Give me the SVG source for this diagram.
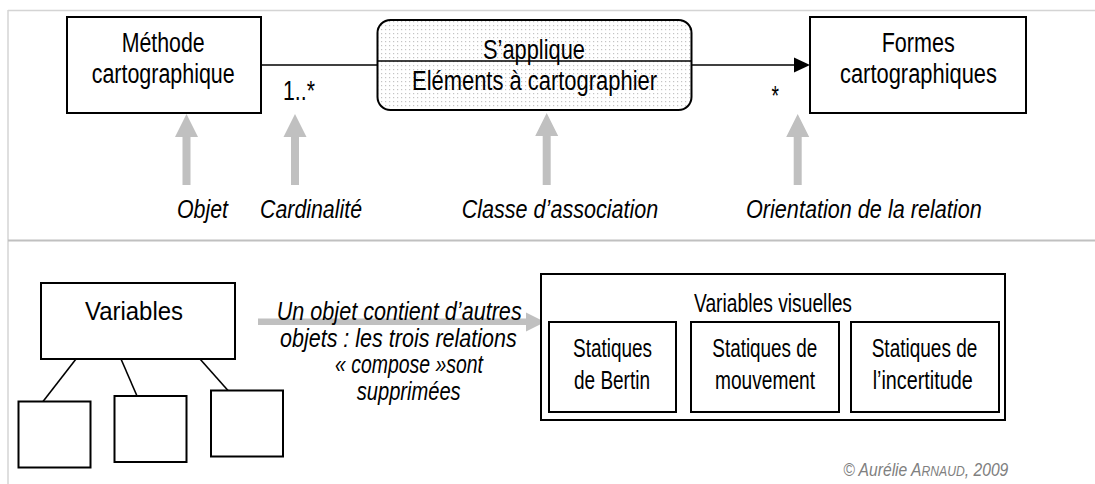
<svg xmlns="http://www.w3.org/2000/svg" width="1095" height="484" viewBox="0 0 1095 484">
<style>
.box{fill:#fff;stroke:#000;stroke-width:2}
.ln{stroke:#000;stroke-width:1.6;fill:none}
.t{font-family:"Liberation Sans",Arial,sans-serif;font-size:27px;fill:#000}
.tb{font-family:"Liberation Sans",Arial,sans-serif;font-size:26px;fill:#000}
.ti{font-family:"Liberation Sans",Arial,sans-serif;font-size:25px;font-style:italic;fill:#000}
.g{fill:#c0c0c0}
.cp{font-family:"Liberation Sans",Arial,sans-serif;font-size:18px;font-style:italic;fill:#808080}
</style>
<defs>
<pattern id="dots" width="4" height="4" patternUnits="userSpaceOnUse">
<rect width="4" height="4" fill="#fff"/>
<rect x="1" y="1" width="1.2" height="1.2" fill="#c4c4c4"/>
</pattern>
</defs>
<rect width="1095" height="484" fill="#fff"/>
<g id="frame">
<line x1="8" y1="10.5" x2="1095" y2="10.5" stroke="#d4d4d4" stroke-width="1.5"/>
<line x1="8" y1="10" x2="8" y2="484" stroke="#d4d4d4" stroke-width="1.5"/>
<line x1="8" y1="240.5" x2="1095" y2="240.5" stroke="#c0c0c0" stroke-width="2"/>
</g>
<g id="connectors">
<line class="ln" x1="261" y1="65" x2="377.5" y2="65"/>
<line class="ln" x1="691.5" y1="65" x2="796" y2="65"/>
<polygon points="794,57.5 810,65 794,72.5" fill="#000"/>
<line class="ln" x1="76" y1="359" x2="43" y2="401.5"/>
<line class="ln" x1="121" y1="359" x2="137" y2="396"/>
<line class="ln" x1="200" y1="359" x2="228" y2="390.5"/>
</g>
<g id="pointers">
<polygon class="g" points="186.5,114 198,137 190.5,137 190.5,185 182.5,185 182.5,137 175,137"/>
<polygon class="g" points="295,114 306.5,137 299,137 299,185 291,185 291,137 283.5,137"/>
<polygon class="g" points="546.7,113 558.2,136 550.7,136 550.7,185 542.7,185 542.7,136 535.2,136"/>
<polygon class="g" points="797.7,114 809.2,137 801.7,137 801.7,185 793.7,185 793.7,137 786.2,137"/>
<polygon class="g" points="258,318.5 526,318.5 526,312.5 545,322 526,331.5 526,325 258,325"/>
</g>
<g id="methode">
<rect class="box" x="67" y="17" width="194" height="96"/>
<text class="t" x="121.7" y="52" textLength="83" lengthAdjust="spacingAndGlyphs">Méthode</text>
<text class="t" x="91.7" y="83" textLength="143" lengthAdjust="spacingAndGlyphs">cartographique</text>
</g>
<g id="association">
<rect x="377.5" y="20" width="314" height="90" rx="13" fill="url(#dots)" stroke="#000" stroke-width="2"/>
<line class="ln" x1="377.5" y1="61" x2="691.5" y2="61"/>
<text class="t" x="483" y="59" textLength="102" lengthAdjust="spacingAndGlyphs">S’applique</text>
<text class="t" x="412" y="90" textLength="245" lengthAdjust="spacingAndGlyphs">Eléments à cartographier</text>
</g>
<g id="formes">
<rect class="box" x="810" y="17" width="216" height="96"/>
<text class="t" x="881.7" y="52" textLength="73" lengthAdjust="spacingAndGlyphs">Formes</text>
<text class="t" x="840" y="83" textLength="157" lengthAdjust="spacingAndGlyphs">cartographiques</text>
</g>
<g id="cardinalities">
<text class="t" x="283" y="100" textLength="32" lengthAdjust="spacingAndGlyphs">1..*</text>
<text class="t" x="771.5" y="105" textLength="7.5" lengthAdjust="spacingAndGlyphs">*</text>
</g>
<g id="labels">
<text class="ti" x="177" y="218" textLength="51" lengthAdjust="spacingAndGlyphs">Objet</text>
<text class="ti" x="260" y="218" textLength="102" lengthAdjust="spacingAndGlyphs">Cardinalité</text>
<text class="ti" x="461.7" y="218" textLength="196.6" lengthAdjust="spacingAndGlyphs">Classe d’association</text>
<text class="ti" x="746" y="218" textLength="235.7" lengthAdjust="spacingAndGlyphs">Orientation de la relation</text>
</g>
<g id="variables">
<rect class="box" x="41" y="283" width="194" height="76"/>
<text class="tb" x="85" y="320" textLength="98" lengthAdjust="spacingAndGlyphs">Variables</text>
</g>
<g id="sub1"><rect class="box" x="18.5" y="401.5" width="72" height="66"/></g>
<g id="sub2"><rect class="box" x="114.5" y="396" width="72" height="66"/></g>
<g id="sub3"><rect class="box" x="211" y="390.5" width="72" height="66"/></g>
<g id="note">
<text class="ti" x="276.7" y="320" textLength="245" lengthAdjust="spacingAndGlyphs">Un objet contient d’autres</text>
<text class="ti" x="280" y="346.7" textLength="236.7" lengthAdjust="spacingAndGlyphs">objets : les trois relations</text>
<text class="ti" x="335" y="373.3" textLength="148" lengthAdjust="spacingAndGlyphs">« compose »sont</text>
<text class="ti" x="356.7" y="400" textLength="104" lengthAdjust="spacingAndGlyphs">supprimées</text>
</g>
<g id="variables-visuelles">
<rect class="box" x="541" y="274" width="464" height="146"/>
<text class="tb" x="694" y="311.7" textLength="158" lengthAdjust="spacingAndGlyphs">Variables visuelles</text>
</g>
<g id="bertin">
<rect class="box" x="549" y="322" width="127" height="90"/>
<text class="tb" x="573" y="356.5" textLength="79" lengthAdjust="spacingAndGlyphs">Statiques</text>
<text class="tb" x="574" y="389.3" textLength="76" lengthAdjust="spacingAndGlyphs">de Bertin</text>
</g>
<g id="mouvement">
<rect class="box" x="691" y="322" width="148" height="90"/>
<text class="tb" x="712.3" y="356.5" textLength="105" lengthAdjust="spacingAndGlyphs">Statiques de</text>
<text class="tb" x="715" y="389.3" textLength="100" lengthAdjust="spacingAndGlyphs">mouvement</text>
</g>
<g id="incertitude">
<rect class="box" x="851" y="322" width="148" height="90"/>
<text class="tb" x="871.7" y="356.5" textLength="105.6" lengthAdjust="spacingAndGlyphs">Statiques de</text>
<text class="tb" x="872.7" y="389.3" textLength="100" lengthAdjust="spacingAndGlyphs">l’incertitude</text>
</g>
<g id="copyright">
<text class="cp" x="843.3" y="476" textLength="165" lengthAdjust="spacingAndGlyphs">© Aurélie A<tspan font-size="14">RNAUD</tspan>, 2009</text>
</g>
</svg>
